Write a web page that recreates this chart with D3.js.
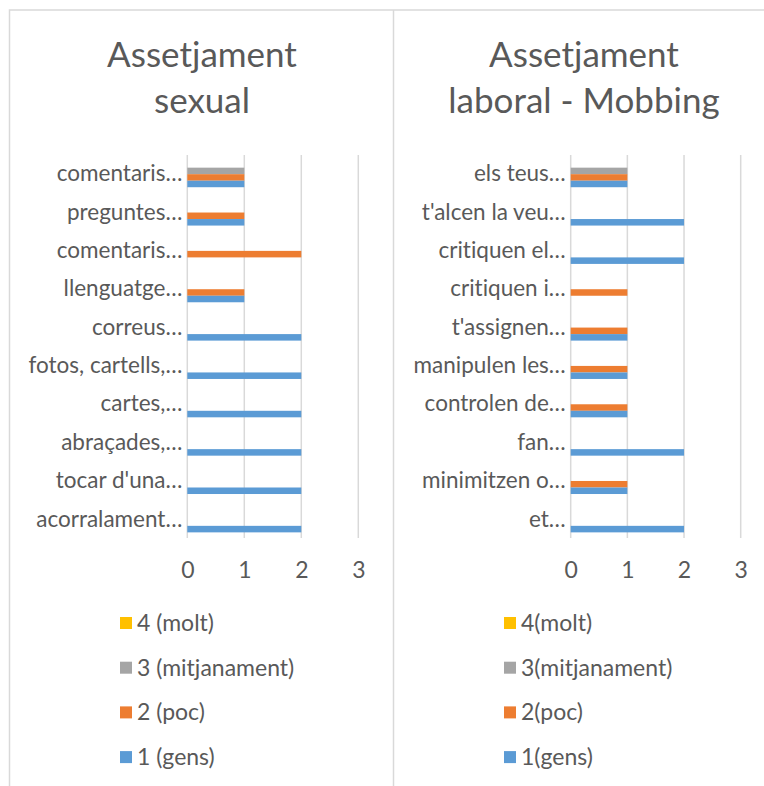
<!DOCTYPE html>
<html>
<head>
<meta charset="utf-8">
<script src="https://cdn.jsdelivr.net/npm/d3@7/dist/d3.min.js"></script>
<style>
  html, body { margin: 0; padding: 0; background: #fff; }
  svg { display: block; }
  text { font-family: Lato, "Open Sans", sans-serif; fill: #595959; font-variant-ligatures: none; font-feature-settings: "liga" 0, "clig" 0; }
</style>
</head>
<body>
<svg id="chart" width="764" height="786"></svg>
<script>
// ---------- DATA ----------
const seriesKeys = ["4", "3", "2", "1"]; // top-to-bottom order within a group
const seriesColors = ["#FFC000", "#A5A5A5", "#ED7D31", "#5B9BD5"];

const sexualTitle = ["Assetjament", "sexual"];
const sexualCategories = [
  "comentaris…", "preguntes…", "comentaris…", "llenguatge…", "correus…",
  "fotos, cartells,…", "cartes,…", "abraçades,…", "tocar d'una…", "acorralament…"
];
const sexualGens = [1, 1, 0, 1, 2, 2, 2, 2, 2, 2];
const sexualPoc = [1, 1, 2, 1, 0, 0, 0, 0, 0, 0];
const sexualMitjanament = [1, 0, 0, 0, 0, 0, 0, 0, 0, 0];
const sexualMolt = [0, 0, 0, 0, 0, 0, 0, 0, 0, 0];
const sexualLegend = ["4 (molt)", "3 (mitjanament)", "2 (poc)", "1 (gens)"];

const mobbingTitle = ["Assetjament", "laboral - Mobbing"];
const mobbingCategories = [
  "els teus…", "t'alcen la veu…", "critiquen el…", "critiquen i…", "t'assignen…",
  "manipulen les…", "controlen de…", "fan…", "minimitzen o…", "et…"
];
const mobbingGens = [1, 2, 2, 0, 1, 1, 1, 2, 1, 2];
const mobbingPoc = [1, 0, 0, 1, 1, 1, 1, 0, 1, 0];
const mobbingMitjanament = [1, 0, 0, 0, 0, 0, 0, 0, 0, 0];
const mobbingMolt = [0, 0, 0, 0, 0, 0, 0, 0, 0, 0];
const mobbingLegend = ["4(molt)", "3(mitjanament)", "2(poc)", "1(gens)"];

const xTicks = [0, 1, 2, 3];

// ---------- DRAW ----------
const svg = d3.select("#chart");
const gridColor = "#D9D9D9";

// frame
svg.append("rect").attr("x", 9.5).attr("y", 10).attr("width", 800).attr("height", 800)
  .attr("fill", "none").attr("stroke", gridColor).attr("stroke-width", 1.5);
svg.append("line").attr("x1", 393.5).attr("x2", 393.5).attr("y1", 10).attr("y2", 800)
  .attr("stroke", gridColor).attr("stroke-width", 1.5);

function drawPanel(cfg) {
  const g = svg.append("g");
  const x = d3.scaleLinear().domain([0, 3]).range([cfg.x0, cfg.x3]);
  const y = d3.scaleBand().domain(d3.range(cfg.categories.length))
    .range([155, 538.5]).paddingInner(0.32).paddingOuter(0.16);
  const ySub = d3.scaleBand().domain(seriesKeys).range([0, y.bandwidth()]);
  const color = d3.scaleOrdinal().domain(seriesKeys).range(seriesColors);

  // title
  const title = g.append("text").attr("text-anchor", "middle")
    .style("font-size", "35px");
  cfg.title.forEach((t, i) => {
    title.append("tspan").attr("x", cfg.cx).attr("y", 67 + i * 46).text(t);
  });

  // gridlines
  g.selectAll("line.grid").data(xTicks).join("line")
    .attr("x1", d => x(d)).attr("x2", d => x(d))
    .attr("y1", 155).attr("y2", 538)
    .attr("stroke", gridColor).attr("stroke-width", 1.5);

  // x axis tick labels
  const xAxis = d3.axisBottom(x).tickValues(xTicks).tickSize(0).tickPadding(0).tickFormat(d3.format("d"));
  const ax = g.append("g").attr("transform", "translate(0,570)").call(xAxis);
  ax.select(".domain").remove();
  ax.selectAll("text").attr("dy", "0.35em").attr("y", 0)
    .style("font-size", "23px").attr("fill", "#595959");

  // y axis labels
  const yAxis = d3.axisLeft(y).tickSize(0).tickPadding(0).tickFormat(i => cfg.categories[i]);
  const ay = g.append("g").attr("transform", `translate(${cfg.x0 - 5},0)`).call(yAxis);
  ay.select(".domain").remove();
  ay.selectAll("text").style("font-size", "22.5px").attr("fill", "#595959");

  // bars
  const series = { "1": cfg.gens, "2": cfg.poc, "3": cfg.mitj, "4": cfg.molt };
  const rows = [];
  cfg.categories.forEach((c, i) => {
    seriesKeys.forEach(k => rows.push({ i, k, v: series[k][i] }));
  });
  g.selectAll("rect.bar").data(rows.filter(r => r.v > 0)).join("rect")
    .attr("x", x(0))
    .attr("y", d => y(d.i) + ySub(d.k))
    .attr("width", d => x(d.v) - x(0))
    .attr("height", ySub.bandwidth())
    .attr("fill", d => color(d.k));

  // legend
  const lg = g.selectAll("g.leg").data(seriesKeys).join("g")
    .attr("transform", (d, i) => `translate(${cfg.legX}, ${623 + i * 44.7})`);
  lg.append("rect").attr("x", 0).attr("y", -6).attr("width", 12).attr("height", 12)
    .attr("fill", d => color(d));
  lg.append("text").attr("x", 17).attr("y", 0).attr("dy", "0.35em")
    .style("font-size", "23px").text((d, i) => cfg.legend[i]);
}

drawPanel({
  title: sexualTitle, categories: sexualCategories,
  gens: sexualGens, poc: sexualPoc, mitj: sexualMitjanament, molt: sexualMolt,
  legend: sexualLegend, x0: 187.3, x3: 358.3, cx: 202, legX: 120
});
drawPanel({
  title: mobbingTitle, categories: mobbingCategories,
  gens: mobbingGens, poc: mobbingPoc, mitj: mobbingMitjanament, molt: mobbingMolt,
  legend: mobbingLegend, x0: 570.7, x3: 740.7, cx: 584, legX: 504
});
</script>
</body>
</html>
